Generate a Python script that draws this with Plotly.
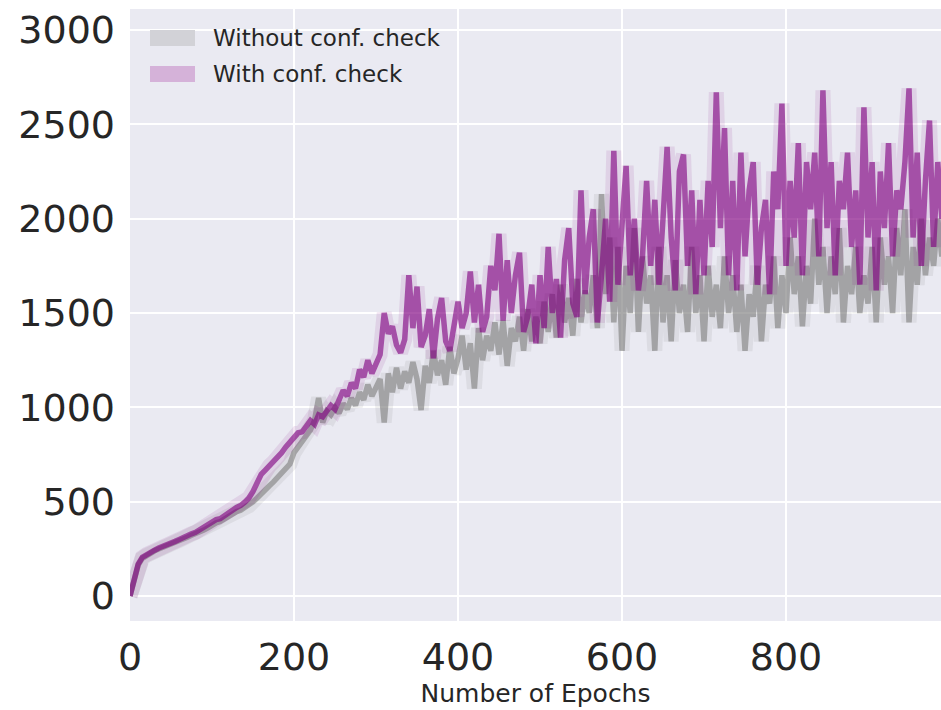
import plotly.graph_objects as go

# epochs sampled every 5
epochs = list(range(0, 1000, 5))

without_conf = [
    0, 85, 165, 200, 215, 228, 240, 250, 258, 268,
    276, 285, 295, 305, 312, 322, 330, 342, 350, 362,
    378, 388, 395, 410, 420, 432, 448, 455, 470, 478,
    500, 520, 545, 565, 585, 605, 630, 650, 672, 700,
    760, 790, 830, 850, 880, 930, 1050, 920, 980, 960,
    1000, 970, 1020, 990, 1050, 1010, 1080, 1040, 1120, 1060,
    1100, 1150, 920, 1180, 1080, 1210, 1100, 1190, 1130, 1240,
    1150, 986, 1220, 1130, 1300, 1170, 1250, 1120, 1320, 1180,
    1260, 1380, 1200, 1340, 1100, 1420, 1250, 1380, 1300, 1450,
    1280, 1460, 1220, 1420, 1350, 1480, 1300, 1520, 1350, 1480,
    1340, 1560, 1400, 1600, 1370, 1650, 1450, 1580, 1380, 1680,
    1450, 1620, 1500, 1700, 1420, 2130, 1600, 1900, 1450, 1850,
    1300, 1750, 1500, 1950, 1400, 1800, 1550, 1700, 1300, 1850,
    1450, 1700, 1350, 1780, 1500, 1650, 1400, 1850, 1500, 1700,
    1350, 1750, 1480, 1650, 1420, 1800, 1500, 1700, 1400, 1650,
    1300, 1600, 1480, 1750, 1350, 1650, 1550, 1800, 1420, 1700,
    1500, 1900, 1600, 1800, 1430, 1750, 1550, 2000, 1650, 1850,
    1500, 1800, 1600, 1950, 1450, 1750, 1600, 1850, 1500, 1700,
    1550, 1850, 1450, 1900, 1650, 1800, 1500, 1950, 1700, 2050,
    1450, 1850, 1650, 2000, 1700, 1900, 1750, 2000, 1800, 1950,
]

with_conf = [
    0, 90, 170, 205, 220, 232, 243, 255, 262, 272,
    280, 290, 300, 312, 318, 330, 338, 352, 360, 372,
    392, 405, 410, 428, 440, 455, 470, 480, 498, 520,
    555, 600, 645, 668, 690, 710, 740, 760, 790, 815,
    840, 865, 870, 900, 930, 910, 960, 950, 985, 1010,
    990, 1040, 1090, 1060, 1130, 1100, 1200, 1160, 1250, 1180,
    1230, 1280, 1500, 1390, 1430, 1330, 1290, 1360, 1700, 1420,
    1640, 1320, 1380, 1520, 1260, 1470, 1580, 1350, 1300, 1450,
    1560, 1420, 1500, 1720, 1450, 1650, 1400, 1480, 1750, 1620,
    1920, 1460, 1780, 1500, 1700, 1820, 1400, 1480, 1650, 1340,
    1700, 1420, 1850, 1500, 1680, 1370, 1780, 1950, 1550, 1480,
    2150, 1600, 1900, 2050, 1450, 1700, 2000, 1560, 2360, 1650,
    1950, 2280, 1700, 2000, 1620, 1800, 2200, 1750, 2100, 1650,
    2000, 2380, 1900, 1620, 2250, 2340, 1750, 2150, 1600, 2100,
    1700, 2200, 1850, 2670, 1950, 2480, 1700, 2200, 1620, 2350,
    1800, 2150, 2300, 1650, 1950, 2100, 1600, 2250, 2050, 2610,
    1750, 2200, 1900, 2400, 1700, 2300, 2050, 2350, 1800, 2680,
    1950, 2300, 1700, 2200, 2050, 2350, 1850, 2150, 1650, 2590,
    1900, 2300, 1620, 2250, 1950, 2400, 1800, 2150, 2050, 2300,
    2690, 1900, 2350, 1750, 2200, 2520, 1850, 2300, 2000, 2150,
]

series_names = ["Without conf. check", "With conf. check"]
x_ticks = [0, 200, 400, 600, 800]
y_ticks = [0, 500, 1000, 1500, 2000, 2500, 3000]

FONT = "DejaVu Sans, Verdana, sans-serif"
TXT = "#262626"

fig = go.Figure()

specs = [
    (without_conf, "rgba(128,128,128,0.13)", "rgba(128,128,128,0.62)"),
    (with_conf, "rgba(128,0,128,0.10)", "rgba(128,0,128,0.62)"),
]
for (vals, halo, col), name in zip(specs, series_names):
    fig.add_trace(go.Scatter(x=epochs, y=vals, mode="lines",
                             line=dict(color=halo, width=15),
                             hoverinfo="skip", showlegend=False))
    fig.add_trace(go.Scatter(x=epochs, y=vals, mode="lines", name=name,
                             line=dict(color=col, width=5.5),
                             showlegend=False))

# manual legend (patches + text), in plot-domain coordinates
W, H = 811.0, 612.0
def px2dx(px):
    return (px - 130) / W
def py2dy(py):
    return (621 - py) / H

swatch_colors = ["#d2d2d7", "#d5b2d9"]
row_y = [38, 74]
for name, c, ry in zip(series_names, swatch_colors, row_y):
    fig.add_shape(type="rect", xref="paper", yref="paper",
                  x0=px2dx(150), x1=px2dx(195), y0=py2dy(ry - 8), y1=py2dy(ry + 8),
                  fillcolor=c, line=dict(width=0), layer="above")
    fig.add_annotation(xref="paper", yref="paper", x=px2dx(211), y=py2dy(ry),
                       text=name, showarrow=False, xanchor="left", yanchor="middle",
                       font=dict(family=FONT, size=23, color=TXT))

fig.update_layout(
    width=941, height=710,
    margin=dict(l=130, r=0, t=9, b=89),
    paper_bgcolor="white", plot_bgcolor="#eaeaf2",
    font=dict(family=FONT, color=TXT),
    showlegend=False,
)
fig.update_xaxes(range=[0, 989], tickvals=x_ticks, showgrid=True,
                 gridcolor="white", gridwidth=2, zeroline=False,
                 showline=False, ticks="", ticklabelstandoff=10,
                 tickfont=dict(family=FONT, size=38, color=TXT),
                 title=dict(text="Number of Epochs", standoff=6,
                            font=dict(family=FONT, size=25, color=TXT)))
fig.update_yaxes(range=[-132, 3111], tickvals=y_ticks, showgrid=True,
                 gridcolor="white", gridwidth=2, zeroline=False,
                 showline=False, ticks="", ticklabelstandoff=14,
                 tickfont=dict(family=FONT, size=38, color=TXT))

fig.write_html("out.html")
